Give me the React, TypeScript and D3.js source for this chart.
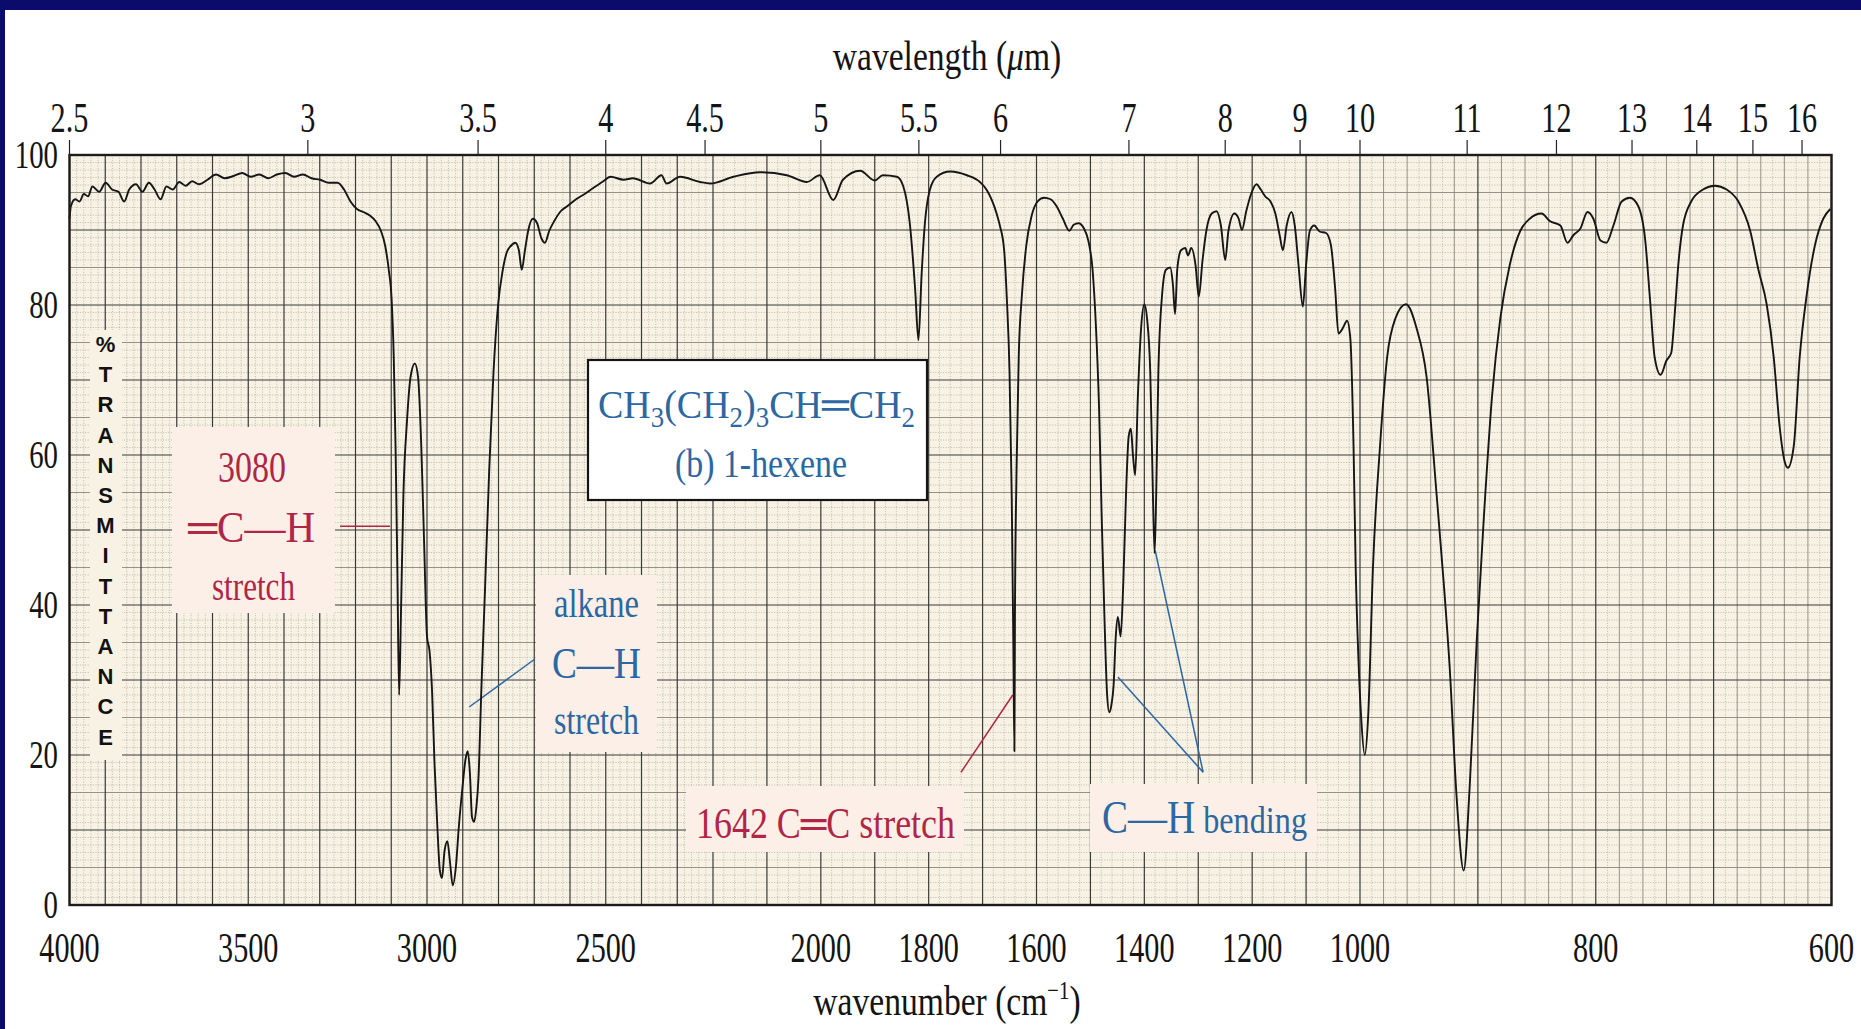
import React from 'react';
import * as d3 from 'd3';

const W = 1861;
const H = 1029;

// ---- axis values ----
const wavenumberTicks = [4000, 3500, 3000, 2500, 2000, 1800, 1600, 1400, 1200, 1000, 800, 600];
const wavelengthTicks = [2.5, 3, 3.5, 4, 4.5, 5, 5.5, 6, 7, 8, 9, 10, 11, 12, 13, 14, 15, 16];
const transmittanceTicks = [0, 20, 40, 60, 80, 100];
const scaleBreaks = [4000, 2200, 1000, 600];
const transmittanceLetters = ['%', 'T', 'R', 'A', 'N', 'S', 'M', 'I', 'T', 'T', 'A', 'N', 'C', 'E'];

// ---- spectrum: [wavenumber (cm-1), % transmittance] ----
const spectrum: [number, number][] = [
  [4000, 91.5], [3996, 93.2], [3984, 94.1], [3972, 93.8], [3960, 94.8], [3948, 94.5], [3936, 95.8],
  [3917, 95.1], [3899, 96.3], [3881, 95.4], [3863, 95.1], [3847, 93.8], [3833, 95.4], [3814, 96.1],
  [3796, 95.1], [3778, 96.3], [3762, 95.4], [3745, 94.1], [3729, 95.8], [3711, 95.4], [3693, 96.4],
  [3675, 95.9], [3657, 96.5], [3638, 96.1], [3614, 96.7], [3590, 97.4], [3566, 96.9], [3541, 97.2],
  [3517, 97.6], [3493, 97.1], [3469, 97.4], [3444, 96.9], [3420, 97.4], [3396, 97.6], [3372, 97.1],
  [3347, 97.4], [3323, 96.9], [3299, 96.7], [3275, 96.3], [3250, 96.3], [3232, 95.4], [3214, 93.8],
  [3196, 92.8], [3178, 92.4], [3159, 91.9], [3144, 91.2], [3129, 89.9], [3117, 87.9], [3107, 84.7],
  [3099, 80.8], [3093, 73.0], [3088, 61.2], [3083, 45.0], [3078, 28.0], [3073, 38.4], [3066, 54.7],
  [3056, 64.5], [3046, 70.4], [3034, 72.2], [3025, 70.4], [3016, 61.2], [3008, 48.2], [3000, 35.8],
  [2993, 33.9], [2986, 28.7], [2979, 18.9], [2971, 10.4], [2964, 4.6], [2958, 3.6], [2951, 7.2],
  [2943, 8.5], [2936, 5.9], [2928, 2.6], [2919, 5.2], [2911, 10.4], [2901, 15.6], [2892, 19.5],
  [2886, 20.5], [2880, 17.6], [2874, 11.7], [2868, 11.1], [2862, 13.0], [2856, 16.9], [2848, 28.7],
  [2838, 41.7], [2826, 58.0], [2814, 71.0], [2801, 80.1], [2789, 84.4], [2777, 87.0], [2765, 87.9],
  [2753, 88.3], [2743, 87.3], [2735, 84.7], [2726, 87.3], [2717, 89.9], [2704, 91.5], [2692, 90.9],
  [2680, 88.9], [2670, 88.3], [2658, 89.9], [2644, 91.2], [2626, 92.5], [2607, 93.2], [2583, 94.1],
  [2559, 94.8], [2535, 95.6], [2510, 96.4], [2486, 97.1], [2450, 96.7], [2424, 96.9], [2376, 96.2],
  [2344, 97.3], [2330, 96.2], [2292, 97.1], [2236, 96.4], [2208, 96.2], [2162, 97.1], [2113, 97.7],
  [2063, 97.3], [2026, 96.4], [2002, 97.3], [1977, 94.0], [1959, 96.7], [1927, 97.9], [1900, 96.6],
  [1885, 97.3], [1859, 97.1], [1847, 95.8], [1835, 90.9], [1825, 82.0], [1819, 75.3], [1813, 84.2],
  [1807, 90.9], [1798, 95.3], [1785, 97.1], [1760, 97.8], [1729, 97.3], [1705, 96.4], [1692, 95.3],
  [1674, 92.2], [1668, 90.6], [1660, 87.3], [1655, 80.8], [1650, 71.0], [1646, 54.7], [1643, 35.2],
  [1641, 20.5], [1640, 38.4], [1637, 58.0], [1633, 73.0], [1627, 81.4], [1619, 87.9], [1609, 91.9],
  [1598, 93.8], [1586, 94.3], [1574, 94.1], [1563, 93.2], [1551, 91.5], [1539, 89.9], [1531, 90.7],
  [1522, 90.9], [1512, 90.2], [1504, 88.6], [1496, 84.7], [1490, 77.5], [1484, 66.4], [1479, 51.5],
  [1474, 38.4], [1469, 28.0], [1465, 25.7], [1461, 26.7], [1457, 29.3], [1453, 35.8], [1449, 38.4],
  [1444, 35.8], [1439, 43.0], [1434, 54.7], [1429, 62.5], [1425, 63.5], [1421, 59.9], [1417, 57.3],
  [1412, 67.8], [1406, 76.9], [1400, 80.1], [1395, 78.2], [1389, 71.0], [1385, 58.0], [1381, 46.9],
  [1378, 54.7], [1374, 71.0], [1367, 81.4], [1360, 84.7], [1352, 85.0], [1347, 82.7], [1343, 78.8],
  [1339, 84.7], [1332, 87.3], [1324, 87.6], [1319, 86.6], [1313, 87.6], [1305, 85.3], [1299, 81.1],
  [1292, 86.0], [1285, 89.9], [1275, 92.2], [1266, 92.5], [1258, 90.6], [1250, 86.0], [1244, 89.9],
  [1233, 92.2], [1225, 91.5], [1219, 90.0], [1211, 92.5], [1202, 94.8], [1192, 96.1], [1184, 95.4],
  [1176, 94.5], [1166, 93.8], [1157, 92.2], [1149, 89.3], [1143, 87.3], [1136, 90.6], [1127, 92.4],
  [1121, 90.6], [1114, 85.3], [1106, 79.8], [1100, 85.3], [1093, 89.9], [1085, 90.6], [1075, 89.8],
  [1063, 89.6], [1054, 88.0], [1046, 82.1], [1040, 76.2], [1032, 76.9], [1024, 77.9], [1018, 75.6],
  [1012, 61.2], [1008, 45.0], [1003, 33.0], [999, 25.0], [996, 20.0], [993, 25.4], [989, 45.0],
  [983, 61.2], [977, 73.0], [970, 78.2], [961, 80.1], [952, 76.9], [943.5, 70.4], [935, 54.7],
  [929, 43.0], [924, 31.9], [918, 14.3], [912, 4.6], [907, 15.6], [901, 35.2], [895, 51.5],
  [888, 67.8], [881, 78.2], [873, 85.3], [864, 89.9], [856, 91.5], [846, 92.2], [839, 91.2],
  [830, 90.6], [824, 88.3], [819, 89.3], [813, 90.2], [807, 92.4], [802, 91.5], [796, 88.6],
  [791, 88.3], [785, 90.6], [778, 93.8], [771, 94.3], [764, 93.2], [758, 88.6], [754, 80.8],
  [750, 73.0], [745, 70.7], [740, 72.6], [736, 73.6], [733, 78.8], [730, 85.3], [726, 90.6],
  [719, 93.8], [709, 95.4], [699, 95.9], [689, 95.4], [679, 93.8], [669, 89.9], [662, 84.7],
  [655, 80.1], [649, 73.0], [644, 63.8], [640, 59.3], [637, 58.3], [632, 61.2], [627, 73.0],
  [621, 81.4], [614, 88.0], [607, 91.5], [601, 92.8],
];

// ---- annotation anchors in data units [wavenumber, %T] ----
const vinylPointer: [number, number][] = [[3243, 50.5], [3103, 50.5]];
const alkanePointer: [number, number][] = [[2698, 32.8], [2882, 26.4]];
const ccPointer: [number, number][] = [[1740, 17.7], [1644, 28.0]];
const bendPointerA: [number, number][] = [[1291, 17.7], [1449, 30.4]];
const bendPointerB: [number, number][] = [[1291, 17.7], [1380, 47.3]];

const NAVY = '#0b0b6b';
const CREAM = '#f7f2e3';
const PINK = '#fcefe8';
const RED = '#b02645';
const BLUE = '#2c67a2';
const SERIF = "'Liberation Serif', 'Times New Roman', serif";
const SANS = "'Liberation Sans', Arial, sans-serif";

function SText(props: any) {
  const { x, y, size, sx = 0.72, anchor = 'middle', fill = '#141414', children, family = SERIF } = props;
  return (
    <text transform={`translate(${x},${y}) scale(${sx},1)`} fontSize={size} textAnchor={anchor}
      fill={fill} fontFamily={family}>{children}</text>
  );
}

export default function App() {
  const x = d3.scaleLinear().domain(scaleBreaks).range([69.5, 713, 1360, 1831.5]);
  const y = d3.scaleLinear().domain([0, 100]).range([905, 155]);
  const line = d3.line<[number, number]>().x(d => x(d[0])).y(d => y(d[1])).curve(d3.curveMonotoneX);
  const seg = d3.line<[number, number]>().x(d => x(d[0])).y(d => y(d[1]));

  const x0 = x(4000), x1 = x(600), yTop = y(100), yBot = y(0);

  const majorV = d3.range(600, 4001, 100);
  const dottedV = [
    ...d3.range(1000, 4000, 20).filter(v => v % 100 !== 0),
    ...d3.range(600, 1000, 10).filter(v => v % 20 !== 0),
  ];
  const mediumV = d3.range(600, 1000, 20).filter(v => v % 100 !== 0);
  const majorH = d3.range(0, 101, 10);
  const mediumH = d3.range(5, 100, 10);
  const dottedH = d3.range(1, 100, 1).filter(v => v % 5 !== 0);

  return (
    <div style={{ position: 'fixed', left: 0, top: 0, width: W, height: H, background: '#fff' }}>
      <svg width={W} height={H} style={{ display: 'block' }}>
        <rect width={W} height={H} fill="#fff" />
        <rect x={0} y={0} width={W} height={10} fill={NAVY} />
        <rect x={0} y={0} width={5} height={H} fill={NAVY} />

        {/* plot background */}
        <rect x={x0} y={yTop} width={x1 - x0} height={yBot - yTop} fill={CREAM} />

        {/* grid */}
        <g>
          {dottedH.map(v => (
            <line key={'dh' + v} x1={x0} x2={x1} y1={y(v)} y2={y(v)} stroke="#a8a49a" strokeWidth={0.7} strokeDasharray="1,1.6" />
          ))}
          {dottedV.map(v => (
            <line key={'dv' + v} x1={x(v)} x2={x(v)} y1={yTop} y2={yBot} stroke="#a8a49a" strokeWidth={0.7} strokeDasharray="1,1.6" />
          ))}
          {mediumV.map(v => (
            <line key={'mv' + v} x1={x(v)} x2={x(v)} y1={yTop} y2={yBot} stroke="#8a877f" strokeWidth={0.9} />
          ))}
          {mediumH.map(v => (
            <line key={'mh' + v} x1={x0} x2={x1} y1={y(v)} y2={y(v)} stroke="#8a877f" strokeWidth={0.9} />
          ))}
          {majorV.map(v => (
            <line key={'v' + v} x1={x(v)} x2={x(v)} y1={yTop} y2={yBot} stroke="#3a3a3a" strokeWidth={1.2} />
          ))}
          {majorH.map(v => (
            <line key={'h' + v} x1={x0} x2={x1} y1={y(v)} y2={y(v)} stroke="#3a3a3a" strokeWidth={1.2} />
          ))}
        </g>

        {/* %TRANSMITTANCE label */}
        <rect x={90} y={330} width={32} height={430} fill={CREAM} />
        {transmittanceLetters.map((c, i) => (
          <text key={'tl' + i} x={105.5} y={352 + i * 30.2} fontSize={22} fontWeight="bold" fontFamily={SANS}
            textAnchor="middle" fill="#111">{c}</text>
        ))}

        {/* annotation boxes */}
        <rect x={172} y={427} width={163} height={186} fill={PINK} />
        <rect x={536} y={575} width={121} height={177} fill={PINK} />
        <rect x={686} y={786} width={278} height={66} fill={PINK} />
        <rect x={1090} y={784} width={227} height={68} fill={PINK} />
        <rect x={588} y={360} width={339} height={140} fill="#fff" stroke="#151515" strokeWidth={2.2} />

        {/* compound label */}
        <text x={598} y={418} fontSize={41} textLength={317} lengthAdjust="spacingAndGlyphs" fill={BLUE} fontFamily={SERIF}>
          CH<tspan dy={9} fontSize={29}>3</tspan><tspan dy={-9}>(CH</tspan><tspan dy={9} fontSize={29}>2</tspan><tspan dy={-9}>)</tspan><tspan dy={9} fontSize={29}>3</tspan><tspan dy={-9}>CH═CH</tspan><tspan dy={9} fontSize={29}>2</tspan>
        </text>
        <text x={675} y={477} fontSize={41} textLength={172} lengthAdjust="spacingAndGlyphs" fill={BLUE} fontFamily={SERIF}>(b) 1-hexene</text>

        {/* 3080 annotation */}
        <text x={218} y={482} fontSize={44} textLength={68} lengthAdjust="spacingAndGlyphs" fill={RED} fontFamily={SERIF}>3080</text>
        <text x={188} y={542} fontSize={44} textLength={127} lengthAdjust="spacingAndGlyphs" fill={RED} fontFamily={SERIF}>═C—H</text>
        <text x={212} y={600} fontSize={41} textLength={83} lengthAdjust="spacingAndGlyphs" fill={RED} fontFamily={SERIF}>stretch</text>
        <path d={seg(vinylPointer) || ''} stroke={RED} strokeWidth={1.6} fill="none" />

        {/* alkane annotation */}
        <text x={554} y={617} fontSize={41} textLength={85} lengthAdjust="spacingAndGlyphs" fill={BLUE} fontFamily={SERIF}>alkane</text>
        <text x={552} y={678} fontSize={44} textLength={89} lengthAdjust="spacingAndGlyphs" fill={BLUE} fontFamily={SERIF}>C—H</text>
        <text x={554} y={734} fontSize={41} textLength={85} lengthAdjust="spacingAndGlyphs" fill={BLUE} fontFamily={SERIF}>stretch</text>
        <path d={seg(alkanePointer) || ''} stroke={BLUE} strokeWidth={1.5} fill="none" />

        {/* 1642 annotation */}
        <text x={696} y={838} fontSize={44} textLength={259} lengthAdjust="spacingAndGlyphs" fill={RED} fontFamily={SERIF}>1642 C═C stretch</text>
        <path d={seg(ccPointer) || ''} stroke={RED} strokeWidth={1.5} fill="none" />

        {/* C-H bending annotation */}
        <text x={1102} y={833} fontSize={46} textLength={205} lengthAdjust="spacingAndGlyphs" fill={BLUE} fontFamily={SERIF}>
          C—H<tspan fontSize={38}> bending</tspan>
        </text>
        <path d={seg(bendPointerA) || ''} stroke={BLUE} strokeWidth={1.5} fill="none" />
        <path d={seg(bendPointerB) || ''} stroke={BLUE} strokeWidth={1.5} fill="none" />

        {/* spectrum */}
        <path d={line(spectrum) || ''} fill="none" stroke="#161616" strokeWidth={1.9} strokeLinejoin="round" />

        {/* frame */}
        <rect x={x0} y={yTop} width={x1 - x0} height={yBot - yTop} fill="none" stroke="#1c1c1c" strokeWidth={2.4} />

        {/* top wavelength axis */}
        {wavelengthTicks.map(um => {
          const xv = x(10000 / um);
          return (
            <g key={'wl' + um}>
              <line x1={xv} x2={xv} y1={yTop} y2={yTop - 15} stroke="#222" strokeWidth={1.2} />
              <SText x={xv} y={132} size={42}>{String(um)}</SText>
            </g>
          );
        })}
        <SText x={947} y={70} size={42} sx={0.8}>
          wavelength (<tspan fontStyle="italic">μ</tspan>m)
        </SText>

        {/* bottom wavenumber axis */}
        {wavenumberTicks.map(v => (
          <SText key={'wn' + v} x={x(v)} y={962} size={42}>{String(v)}</SText>
        ))}
        <SText x={947} y={1015} size={42} sx={0.8}>
          wavenumber (cm<tspan fontSize={26} dy={-16}>−1</tspan><tspan dy={16}>)</tspan>
        </SText>

        {/* left %T axis */}
        {transmittanceTicks.map(v => (
          <SText key={'t' + v} x={58} y={y(v) + 13} size={40} anchor="end">{String(v)}</SText>
        ))}
      </svg>
    </div>
  );
}
